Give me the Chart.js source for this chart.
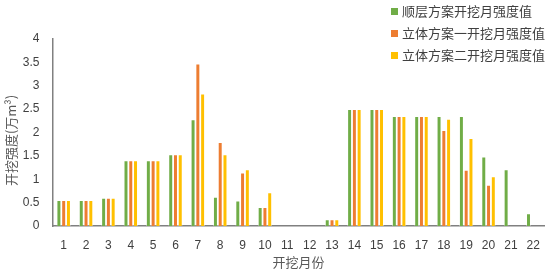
<!DOCTYPE html>
<html>
<head>
<meta charset="utf-8">
<script src="https://cdn.jsdelivr.net/npm/chart.js@4/dist/chart.umd.min.js"></script>
<style>
  html, body { margin: 0; padding: 0; background: #fff; }
  #wrap { position: relative; width: 552px; height: 269px; }
  #legend { position: absolute; left: 391px; top: 2px; font: 13px "Noto Sans CJK SC", sans-serif; color: #404040; }
  #legend div { height: 22px; line-height: 18px; white-space: nowrap; }
  #legend span.box { display: inline-block; width: 7px; height: 7px; margin-right: 4px; vertical-align: 1px; }
</style>
</head>
<body>
<div id="wrap">
  <canvas id="mycanvas" width="552" height="269"></canvas>
  <div id="legend"></div>
</div>
<script>
var months = ['1','2','3','4','5','6','7','8','9','10','11','12','13','14','15','16','17','18','19','20','21','22'];
var seriesNames = ['顺层方案开挖月强度值', '立体方案一开挖月强度值', '立体方案二开挖月强度值'];
var shunceng = [0.55, 0.55, 0.6, 1.4, 1.4, 1.53, 2.28, 0.62, 0.54, 0.4, 0, 0, 0.14, 2.5, 2.5, 2.35, 2.35, 2.35, 2.35, 1.48, 1.21, 0.27];
var fangan1  = [0.55, 0.55, 0.6, 1.4, 1.4, 1.53, 3.47, 1.79, 1.14, 0.4, 0, 0, 0.14, 2.5, 2.5, 2.35, 2.35, 2.05, 1.2, 0.88, 0, 0];
var fangan2  = [0.55, 0.55, 0.6, 1.4, 1.4, 1.53, 2.83, 1.53, 1.21, 0.72, 0, 0, 0.14, 2.5, 2.5, 2.35, 2.35, 2.29, 1.88, 1.06, 0, 0];
var yMax = 4;
var yStep = 0.5;
var yTitle = '开挖强度(万m³)';
var xTitle = '开挖月份';

var colors = ['#70AD47', '#ED7D31', '#FFC000'];
var values = [shunceng, fangan1, fangan2];

var datasets = [];
for (var i in values) {
	datasets.push({
		label: seriesNames[i],
		data: values[i],
		backgroundColor: colors[i],
		borderColor: 'rgba(255,255,255,0.55)',
		borderWidth: 0.8,
		barPercentage: 0.96,
		categoryPercentage: 0.64
	});
}

// legend as html, top right
var legendHtml = '';
for (var i in seriesNames) {
	legendHtml += '<div><span class="box" style="background:' + colors[i] + '"></span>' + seriesNames[i] + '</div>';
}
document.getElementById('legend').innerHTML = legendHtml;

// y title drawn by hand, it sits a bit below the middle of the axis
var yTitlePlugin = {
	id: 'yTitle',
	afterDraw: function(chart) {
		var c = chart.ctx;
		var area = chart.chartArea;
		c.save();
		c.translate(11, (area.top + area.bottom) / 2 + 8);
		c.rotate(-Math.PI / 2);
		c.font = '13px "Noto Sans CJK SC"';
		c.fillStyle = '#595959';
		c.textAlign = 'center';
		c.textBaseline = 'middle';
		c.fillText(yTitle, 0, 0);
		c.restore();
	}
};

var ctx = document.getElementById('mycanvas');
var barGraph = new Chart(ctx, {
	type: 'bar',
	data: { labels: months, datasets: datasets },
	plugins: [yTitlePlugin],
	options: {
		responsive: false,
		animation: false,
		layout: { padding: { top: 39, right: 2.5, left: 0, bottom: 0 } },
		plugins: { legend: { display: false }, tooltip: { enabled: false } },
		scales: {
			x: {
				grid: { display: false, drawTicks: false },
				border: { display: true, color: '#808080', width: 1.5 },
				ticks: { color: '#404040', font: { family: 'Liberation Sans', size: 12 }, padding: 12, maxRotation: 0, autoSkip: false },
				title: { display: true, text: xTitle, color: '#595959', font: { family: 'Noto Sans CJK SC', size: 13 }, padding: { top: 1, bottom: -1 } },
				afterFit: function(scale) { scale.height = 43; }
			},
			y: {
				min: 0,
				max: yMax,
				grid: { display: false, drawTicks: false },
				border: { display: true, color: '#808080', width: 1.5 },
				ticks: {
					stepSize: yStep, color: '#404040', font: { family: 'Liberation Sans', size: 12 }, padding: 13,
					callback: function(v) { return String(v); }
				},
				afterFit: function(scale) { scale.width = 52.5; }
			}
		}
	}
});
</script>
</body>
</html>
